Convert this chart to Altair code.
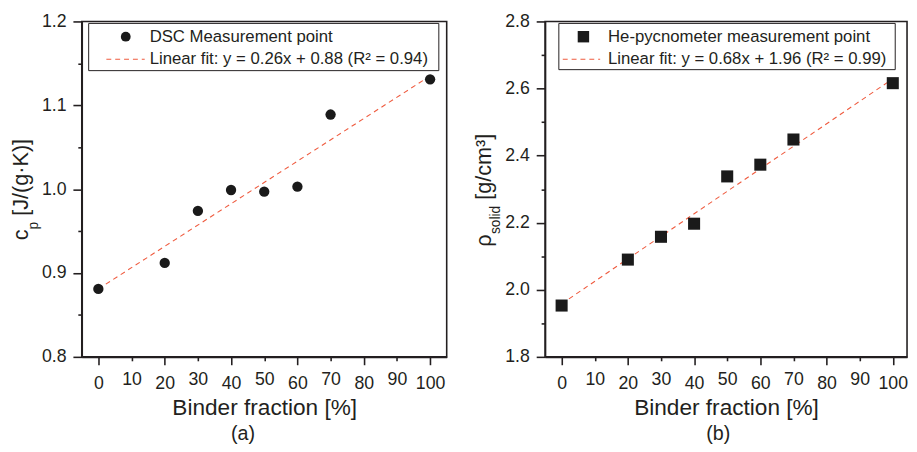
import altair as alt
import pandas as pd

# ---------------- data ----------------
binder = [0, 20, 30, 40, 50, 60, 70, 100]
cp_values = [0.881, 0.912, 0.974, 0.999, 0.997, 1.003, 1.089, 1.131]
rho_values = [1.953, 2.090, 2.158, 2.197, 2.338, 2.373, 2.448, 2.616]
fit_x = [0, 100]
cp_fit = [0.881, 1.135]
rho_fit = [1.958, 2.629]

x_ticks = [0, 10, 20, 30, 40, 50, 60, 70, 80, 90, 100]
cp_ticks = [0.8, 0.85, 0.9, 0.95, 1.0, 1.05, 1.1, 1.15, 1.2]
rho_ticks = [1.8, 1.9, 2.0, 2.1, 2.2, 2.3, 2.4, 2.5, 2.6, 2.7, 2.8]
x_domain_a = [-5, 105]
x_domain_b = [-5, 104.3]
cp_domain = [0.8, 1.2]
rho_domain = [1.8, 2.8]

legend_a = ["DSC Measurement point", "Linear fit: y = 0.26x + 0.88 (R\u00b2 = 0.94)"]
legend_b = ["He-pycnometer measurement point", "Linear fit: y = 0.68x + 1.96 (R\u00b2 = 0.99)"]
x_title = "Binder fraction [%]"
title_a = [("c", "main"), ("p", "sub"), (" [J/(g\u00b7K)]", "main")]
title_b = [("\u03c1", "main"), ("solid", "sub"), (" [g/cm\u00b3]", "main")]
captions = ["(a)", "(b)"]

# ---------------- style ----------------
FONT = "Liberation Sans"
INK = "#231f20"
MARK = "#1a1a1a"
FIT = "#ef5b3f"
H = 341
MAIN_FS, SUB_FS = 22, 14

CHAR_W = {'c': .5, 'p': .556, ' ': .278, '[': .278, 'J': .5, '/': .278, '(': .333,
          'g': .556, '\u00b7': .278, 'K': .667, ')': .333, ']': .278, '\u03c1': .58,
          's': .5, 'o': .556, 'l': .222, 'i': .222, 'd': .556, 'm': .833, '\u00b3': .333}


def text_w(t, fs):
    return sum(CHAR_W.get(ch, .556) for ch in t) * fs


def one():
    return pd.DataFrame({"k": [0]})


def panel(values, fit, x_domain, width, ticks, domain, major_test, shape, msize, legend, box,
          sym_x, line_x, text_x, title_pieces, sub_dx, caption, cap_x):
    df = pd.DataFrame({"x": binder, "y": values})
    fdf = pd.DataFrame({"x": fit_x, "y": fit})
    xenc = alt.X("x:Q", scale=alt.Scale(domain=x_domain, nice=False, zero=False),
                 axis=alt.Axis(values=x_ticks, title=x_title, grid=False,
                               tickSize={"condition": {"test": "datum.value % 20 === 0", "value": 8}, "value": 4},
                               labelPadding=10, titlePadding=5))
    yenc = alt.Y("y:Q", scale=alt.Scale(domain=domain, nice=False, zero=False),
                 axis=alt.Axis(values=ticks, title=None, grid=False,
                               labelExpr=f"{major_test} ? format(datum.value, '.1f') : ''",
                               tickSize={"condition": {"test": major_test, "value": 9}, "value": 4},
                               labelPadding=7))
    line = alt.Chart(fdf).mark_line(color=FIT, strokeDash=[5, 4], strokeWidth=1.1).encode(x=xenc, y=yenc)
    pts = alt.Chart(df).mark_point(shape=shape, filled=True, size=msize, color=MARK, opacity=1).encode(x=xenc, y=yenc)

    layers = [line, pts]
    # legend box
    layers.append(alt.Chart(one()).mark_rect(fill="white", stroke=INK, strokeWidth=1).encode(
        x=alt.value(box[0]), x2=alt.value(box[1]), y=alt.value(box[2]), y2=alt.value(box[3])))
    layers.append(alt.Chart(one()).mark_point(shape=shape, filled=True, size=msize * 0.9, color=MARK, opacity=1).encode(
        x=alt.value(sym_x), y=alt.value(15.5)))
    layers.append(alt.Chart(one()).mark_rule(color=FIT, strokeDash=[5, 4], strokeWidth=1.1).encode(
        x=alt.value(line_x[0]), x2=alt.value(line_x[1]), y=alt.value(38.5)))
    for i, t in enumerate(legend):
        layers.append(alt.Chart(one()).mark_text(text=t, font=FONT, fontSize=17, color=INK, align="left",
                                                 baseline="middle").encode(
            x=alt.value(text_x), y=alt.value(15.5 + 23 * i)))
    # y title with subscript (leading spaces advanced manually; SVG trims them)
    total = sum(text_w(t, MAIN_FS if k == "main" else SUB_FS) for t, k in title_pieces)
    cur = H / 2 + 1 + total / 2
    for t, k in title_pieces:
        fs = MAIN_FS if k == "main" else SUB_FS
        bx = -55 if k == "main" else sub_dx
        lead = len(t) - len(t.lstrip(" "))
        cur -= text_w(" " * lead, fs)
        s = t.lstrip(" ")
        layers.append(alt.Chart(one()).mark_text(text=s, font=FONT, fontSize=fs, color=INK, align="left",
                                                 baseline="alphabetic", angle=270).encode(
            x=alt.value(bx), y=alt.value(cur)))
        cur -= text_w(s, fs)
    layers.append(alt.Chart(one()).mark_text(text=caption, font=FONT, fontSize=20, color=INK, align="center",
                                             baseline="middle").encode(x=alt.value(cap_x), y=alt.value(420)))
    return alt.layer(*layers).properties(width=width, height=H)


left = panel(cp_values, cp_fit, x_domain_a, 371, cp_ticks, cp_domain, "round(datum.value*100) % 10 === 0",
             "circle", 110, legend_a, (7, 363, 2, 50), 44.7, (25, 64), 69, title_a, -45, captions[0], 164)
right = panel(rho_values, rho_fit, x_domain_b, 368, rho_ticks, rho_domain, "round(datum.value*10) % 2 === 0",
              "square", 150, legend_b, (14, 356, 2, 49), 39, (18, 56), 64, title_b, -46, captions[1], 176)

chart = alt.hconcat(left, right, spacing=25).properties(
    padding={"left": 1, "top": 0, "right": 0, "bottom": 0}
).configure_axis(
    labelFont=FONT, titleFont=FONT, labelFontSize=18, titleFontSize=23, titleFontWeight="normal",
    labelColor=INK, titleColor=INK, domainColor=INK, tickColor=INK, domainWidth=1.6, tickWidth=1.6
).configure_view(stroke=INK, strokeWidth=1.6)

chart.save("out.html", embed_options={"renderer": "svg", "actions": False})
